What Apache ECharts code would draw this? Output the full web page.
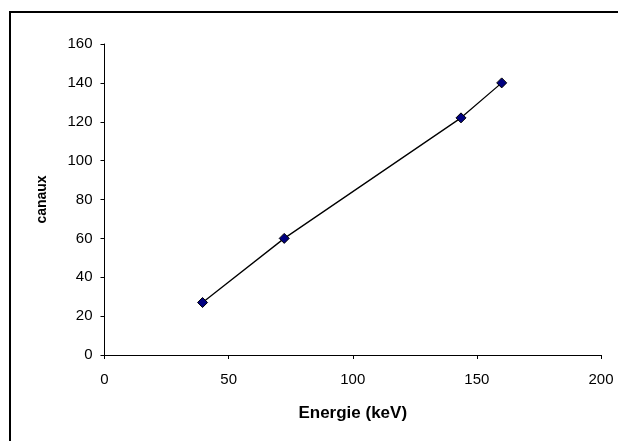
<!DOCTYPE html>
<html>
<head>
<meta charset="utf-8">
<script src="https://cdn.jsdelivr.net/npm/echarts@6/dist/echarts.min.js"></script>
<style>
  html, body { margin: 0; padding: 0; background: #fff; }
  #chart { width: 618px; height: 441px; }
</style>
</head>
<body>
<div id="chart"></div>
<script>
// energie (keV) -> canaux
const energie = [39.5, 72.4, 143.6, 160]
const canaux = [27, 60, 122, 140]

const chart = echarts.init(document.getElementById('chart'), null, { renderer: 'canvas' })

const font = 'Liberation Sans, Arial, sans-serif'

const option = {
  backgroundColor: '#fff',
  animation: false,
  // cadre autour du graphique
  graphic: [{
    type: 'rect',
    shape: { x: 10, y: 12, width: 640, height: 460 },
    style: { fill: 'none', stroke: '#000', lineWidth: 2 },
    silent: true
  }],
  grid: { left: 104.5, right: 17, top: 44, bottom: 86 },
  xAxis: {
    type: 'value',
    min: 0,
    max: 200,
    interval: 50,
    name: 'Energie (keV)',
    nameLocation: 'middle',
    nameGap: 50,
    nameTextStyle: { color: '#000', fontWeight: 'bold', fontSize: 17, fontFamily: font },
    axisLine: { show: true, lineStyle: { color: '#000', width: 1 } },
    axisTick: { show: true, length: 4, lineStyle: { color: '#000' } },
    axisLabel: { color: '#000', fontSize: 15, fontFamily: font, margin: 17 },
    splitLine: { show: false }
  },
  yAxis: {
    type: 'value',
    min: 0,
    max: 160,
    interval: 20,
    name: 'canaux',
    nameLocation: 'middle',
    nameRotate: 90,
    nameGap: 55,
    nameTextStyle: { color: '#000', fontWeight: 'bold', fontSize: 14, fontFamily: font },
    axisLine: { show: true, lineStyle: { color: '#000', width: 1 } },
    axisTick: { show: true, length: 4, lineStyle: { color: '#000' } },
    axisLabel: { color: '#000', fontSize: 15, fontFamily: font, margin: 12 },
    splitLine: { show: false }
  },
  series: [{
    type: 'line',
    data: energie.map((e, i) => [e, canaux[i]]),
    symbol: 'diamond',
    symbolSize: 10,
    lineStyle: { color: '#000', width: 1.3 },
    itemStyle: { color: '#000080', borderColor: '#000', borderWidth: 1 }
  }]
}

chart.setOption(option)
</script>
</body>
</html>
